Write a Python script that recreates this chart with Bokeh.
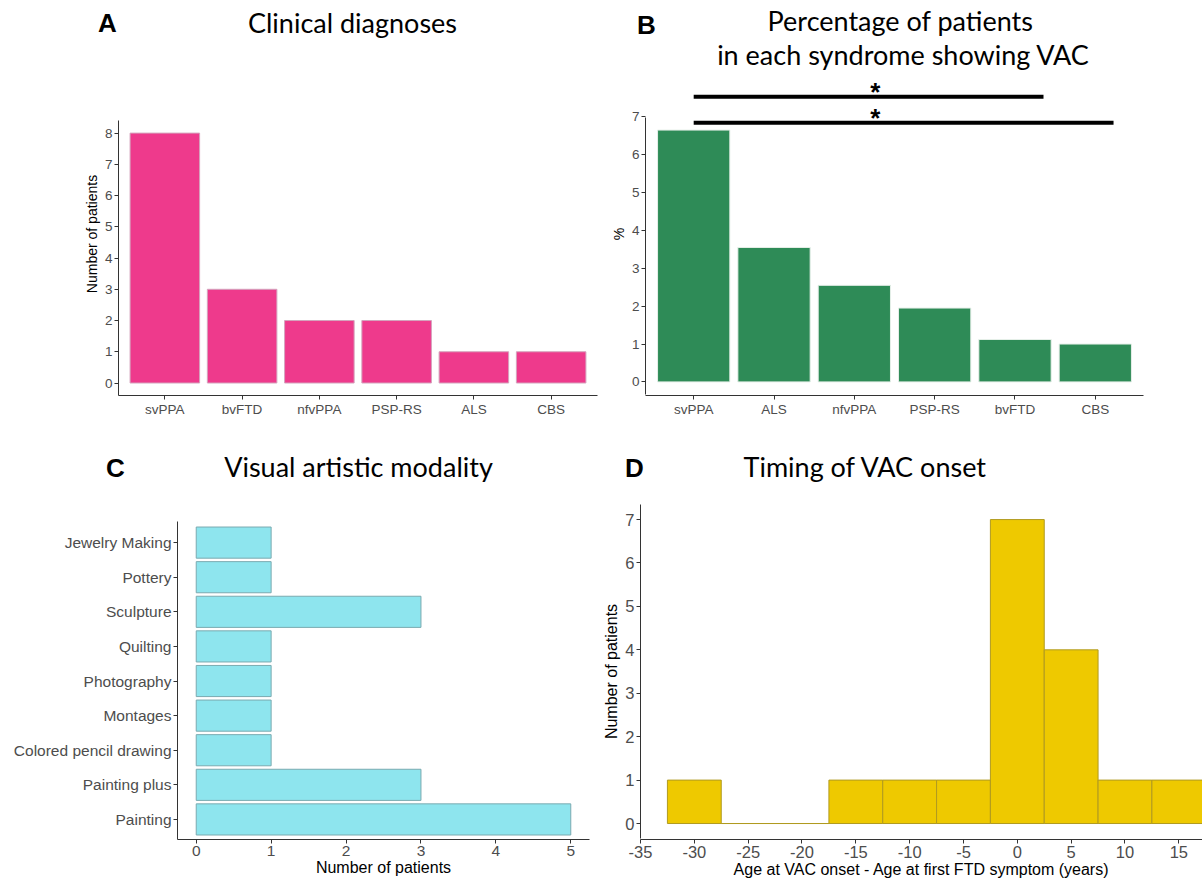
from bokeh.plotting import figure
from bokeh.layouts import column, row
from bokeh.models import FixedTicker, Range1d
from bokeh.core.properties import value
from bokeh.embed import file_html
from bokeh.resources import INLINE

# ---------------- data ----------------
# A: clinical diagnoses
diag_categories = ["svPPA", "bvFTD", "nfvPPA", "PSP-RS", "ALS", "CBS"]
diag_counts = [8, 3, 2, 2, 1, 1]

# B: percentage of patients in each syndrome showing VAC
pct_categories = ["svPPA", "ALS", "nfvPPA", "PSP-RS", "bvFTD", "CBS"]
pct_values = [6.65, 3.55, 2.55, 1.95, 1.12, 1.0]
sig_from = ["svPPA", "svPPA"]
sig_to = ["bvFTD", "CBS"]
sig_levels = [7.53, 6.84]
sig_labels = ["*", "*"]

# C: visual artistic modality (bottom to top)
modality_categories = ["Painting", "Painting plus", "Colored pencil drawing", "Montages",
                       "Photography", "Quilting", "Sculpture", "Pottery", "Jewelry Making"]
modality_counts = [5, 3, 1, 1, 1, 1, 3, 1, 1]

# D: timing of VAC onset (histogram, bin width 5)
onset_bin_centers = [-30, -25, -20, -15, -10, -5, 0, 5, 10, 15]
onset_counts = [1, 0, 0, 1, 1, 1, 7, 4, 1, 1]
onset_bin_width = 5
onset_ticks = [-35, -30, -25, -20, -15, -10, -5, 0, 5, 10, 15]

# panel headings
panel_letters = ["A", "B", "C", "D"]
panel_titles = ["Clinical diagnoses", "Percentage of patients\nin each syndrome showing VAC",
                "Visual artistic modality", "Timing of VAC onset"]

# ---------------- styles ----------------
TICK_FONT = "Liberation Sans"
TITLE_FONT = "Lato"
AXIS_COLOR = "#333333"
W = 1202
TOP_H = 72
SIG_OVERHANG = [0.355, 0.227]
SIG_STAR_X = 3.26
SIG_STAR_LIFT = 0.13


def base_fig(width, height, left, right, top, bottom, x_range, y_range):
    p = figure(width=width, height=height, x_range=x_range, y_range=y_range,
               output_backend="svg", toolbar_location=None, title=None,
               min_border_left=left, min_border_right=right,
               min_border_top=top, min_border_bottom=bottom)
    p.outline_line_color = None
    p.xgrid.visible = False
    p.ygrid.visible = False
    p.background_fill_color = "white"
    p.border_fill_color = "white"
    for ax in (p.xaxis[0], p.yaxis[0]):
        ax.axis_line_color = AXIS_COLOR
        ax.axis_line_width = 1
        ax.major_tick_line_color = AXIS_COLOR
        ax.major_tick_out = 4
        ax.major_tick_in = 0
        ax.minor_tick_line_color = None
        ax.major_label_text_font = TICK_FONT
        ax.major_label_text_color = "#4D4D4D"
        ax.major_label_standoff = 2
        ax.axis_label_text_font = TICK_FONT
        ax.axis_label_text_font_style = "normal"
        ax.axis_label_text_color = "black"
        ax.axis_label_standoff = 2
    return p


def header_fig(height):
    h = figure(width=W, height=height, x_range=Range1d(0, W), y_range=Range1d(height, 0),
               output_backend="svg", toolbar_location=None, title=None,
               x_axis_location=None, y_axis_location=None, min_border=0)
    h.outline_line_color = None
    h.grid.visible = False
    h.background_fill_color = "white"
    h.border_fill_color = "white"
    return h


def head_text(h, xs, ys, texts, font, size, bold=False):
    h.text(x=xs, y=ys, text=texts, text_align="center", text_baseline="middle",
           text_font=value(font), text_font_size=f"{size}px",
           text_font_style="bold" if bold else "normal", text_color="black")


# ---------------- top header ----------------
hTop = header_fig(TOP_H)
head_text(hTop, [107, 646], [22, 24], panel_letters[0:2], TICK_FONT, 26, bold=True)
b_lines = panel_titles[1].split("\n")
head_text(hTop, [352, 900, 903], [22, 20, 54], [panel_titles[0]] + b_lines, TITLE_FONT, 27)

# ---------------- Panel A (row TOP_H-440) ----------------
row1_h = 440 - TOP_H
pA = base_fig(600, row1_h, 118, 3, 0, 45, Range1d(0.4, 6.6), Range1d(-0.4, 9.94))
a_idx = list(range(1, len(diag_categories) + 1))
pA.vbar(x=a_idx, top=diag_counts, width=0.9, bottom=0,
        fill_color="#EE3A8C", line_color="#D4A3BD", line_width=1)
pA.xaxis[0].ticker = FixedTicker(ticks=a_idx)
pA.xaxis[0].major_label_overrides = {i: c for i, c in zip(a_idx, diag_categories)}
pA.yaxis[0].ticker = FixedTicker(ticks=list(range(0, 9)))
pA.yaxis[0].bounds = (-0.4, 8.4)
for ax in (pA.xaxis[0], pA.yaxis[0]):
    ax.major_label_text_font_size = "13.5px"
pA.yaxis[0].axis_label = "Number of patients"
pA.yaxis[0].axis_label_text_font_size = "14px"

# ---------------- Panel B ----------------
pB = base_fig(602, row1_h, 45, 59, 0, 45, Range1d(0.4, 6.6), Range1d(-0.359, 8.17))
b_idx = list(range(1, len(pct_categories) + 1))
pB.vbar(x=b_idx, top=pct_values, width=0.9, bottom=0,
        fill_color="#2E8B57", line_color="#E6EFE9", line_width=1)
pB.xaxis[0].ticker = FixedTicker(ticks=b_idx)
pB.xaxis[0].major_label_overrides = {i: c for i, c in zip(b_idx, pct_categories)}
pB.yaxis[0].ticker = FixedTicker(ticks=list(range(0, 8)))
pB.yaxis[0].bounds = (-0.3325, 6.9825)
for ax in (pB.xaxis[0], pB.yaxis[0]):
    ax.major_label_text_font_size = "13.5px"
pB.yaxis[0].axis_label = "%"
pB.yaxis[0].axis_label_text_font_size = "14px"
sx0 = [pct_categories.index(a) + 1 for a in sig_from]
sx1 = [pct_categories.index(b) + 1 + o for b, o in zip(sig_to, SIG_OVERHANG)]
pB.segment(x0=sx0, y0=sig_levels, x1=sx1, y1=sig_levels, line_color="black", line_width=4)
pB.text(x=[SIG_STAR_X] * len(sig_levels), y=[v + SIG_STAR_LIFT for v in sig_levels],
        text=sig_labels, text_align="center", text_baseline="middle",
        text_font=value(TICK_FONT), text_font_size="26px", text_font_style="bold",
        text_color="black")

# ---------------- bottom header (440-490) ----------------
hBot = header_fig(50)
head_text(hBot, [115, 634], [27, 27], panel_letters[2:4], TICK_FONT, 26, bold=True)
head_text(hBot, [358, 865], [26, 26], panel_titles[2:4], TITLE_FONT, 27)

# ---------------- Panel C (row 490-882) ----------------
pC = base_fig(600, 392, 177, 11, 13, 43, Range1d(-0.25, 5.25), Range1d(0.42, 10.13))
c_idx = list(range(1, len(modality_categories) + 1))
pC.hbar(y=c_idx, right=modality_counts, left=0, height=0.9,
        fill_color="#8EE5EE", line_color="#7AAAB0", line_width=1)
pC.yaxis[0].ticker = FixedTicker(ticks=c_idx)
pC.yaxis[0].major_label_overrides = {i: c for i, c in zip(c_idx, modality_categories)}
pC.yaxis[0].bounds = (0.4, 9.6)
pC.xaxis[0].ticker = FixedTicker(ticks=list(range(0, 6)))
for ax in (pC.xaxis[0], pC.yaxis[0]):
    ax.major_label_text_font_size = "15.5px"
pC.xaxis[0].axis_label = "Number of patients"
pC.xaxis[0].axis_label_text_font_size = "16px"
pC.xaxis[0].axis_label_standoff = 0

# ---------------- Panel D ----------------
pD = base_fig(602, 392, 36, 0, 13, 43, Range1d(-35, 17.2), Range1d(-0.368, 7.37))
half = onset_bin_width / 2
pD.quad(left=[c - half for c in onset_bin_centers], right=[c + half for c in onset_bin_centers],
        bottom=0, top=onset_counts, fill_color="#EEC900", line_color="#B09A20", line_width=1)
pD.xaxis[0].ticker = FixedTicker(ticks=onset_ticks)
pD.xaxis[0].major_label_overrides = {t: str(t) for t in onset_ticks}
pD.yaxis[0].ticker = FixedTicker(ticks=list(range(0, 8)))
pD.yaxis[0].bounds = (-0.35, 7.35)
for ax in (pD.xaxis[0], pD.yaxis[0]):
    ax.major_label_text_font_size = "16.5px"
pD.yaxis[0].axis_label = "Number of patients"
pD.yaxis[0].axis_label_text_font_size = "16px"
pD.xaxis[0].axis_label = "Age at VAC onset - Age at first FTD symptom (years)"
pD.xaxis[0].axis_label_text_font_size = "16px"
pD.xaxis[0].axis_label_standoff = 0

layout = column(hTop, row(pA, pB), hBot, row(pC, pD))
open("out.html", "w").write(file_html(layout, INLINE))
